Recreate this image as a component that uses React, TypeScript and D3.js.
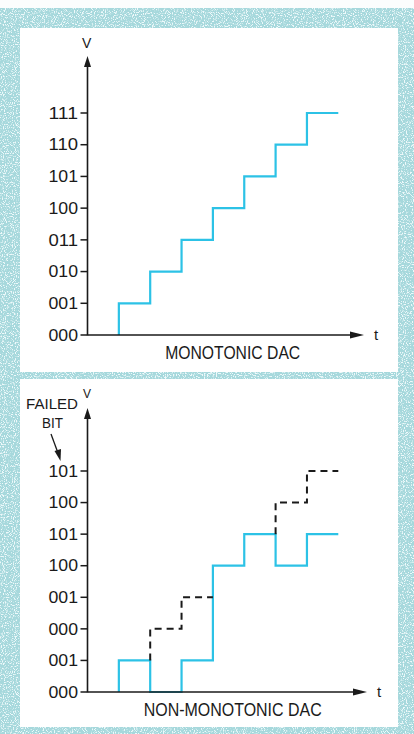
import React from "react";
import * as d3 from "d3";

// Monotonic DAC: step points (time, level)
const monoTimes = [1, 1, 2, 3, 4, 5, 6, 7, 8];
const monoLevels = [0, 1, 2, 3, 4, 5, 6, 7, 7];
const monoTickLabels = ["000", "001", "010", "011", "100", "101", "110", "111"];

// Non-monotonic DAC: actual output (solid) and ideal path (dashed)
const nonTimes = [1, 1, 2, 3, 4, 5, 6, 7, 8];
const nonLevels = [0, 1, 0, 1, 4, 5, 4, 5, 5];
const idealTimesA = [2, 2, 3, 4];
const idealLevelsA = [1, 2, 3, 3];
const idealTimesB = [6, 6, 7, 8];
const idealLevelsB = [5, 6, 7, 7];
const nonTickLabels = ["000", "001", "000", "001", "100", "101", "100", "101"];

const BLUE = "#2cc2e6";
const INK = "#1a1a1a";
const FONT = "'Liberation Sans', Arial, Helvetica, sans-serif";

function zip(t: number[], v: number[]) {
  return t.map((d, i) => [d, v[i]] as [number, number]);
}

function Panel(props: {
  y0: number; y1: number; arrowTop: number;
  labels: string[]; title: string; titleW: number; tEnd: number;
  children: (x: d3.ScaleLinear<number, number>, y: d3.ScaleLinear<number, number>) => React.ReactNode;
}) {
  const { y0, y1, arrowTop, labels, title, titleW, tEnd } = props;
  const x = d3.scaleLinear().domain([0, 8]).range([87.5, 338.3]);
  const y = d3.scaleLinear().domain([0, 7]).range([y0, y1]);
  const ax = x(0);
  return (
    <g>
      {props.children(x, y)}
      {/* y axis */}
      <line x1={ax} x2={ax} y1={y0 + 0.5} y2={arrowTop + 8} stroke={INK} strokeWidth={1.6} />
      <path d={`M${ax},${arrowTop} L${ax - 3.5},${arrowTop + 11} L${ax + 3.5},${arrowTop + 11} Z`} fill={INK} />
      {/* x axis */}
      <line x1={ax} x2={tEnd - 8} y1={y0} y2={y0} stroke={INK} strokeWidth={1.6} />
      <path d={`M${tEnd},${y0} L${tEnd - 14},${y0 - 3.5} L${tEnd - 14},${y0 + 3.5} Z`} fill={INK} />
      {/* ticks */}
      {labels.map((lab, i) => (
        <g key={i}>
          <line x1={ax - 7} x2={ax} y1={y(i)} y2={y(i)} stroke={INK} strokeWidth={1.5} />
          <text x={78} y={y(i) + 5.7} textAnchor="end" fontFamily={FONT} fontSize={16}
            textLength={29.5} lengthAdjust="spacingAndGlyphs" fill={INK}>{lab}</text>
        </g>
      ))}
      <text x={tEnd + 10} y={y0 + 5} fontFamily={FONT} fontSize={15} fill={INK}>t</text>
      <text x={(x(2.4) + x(6.8)) / 2 + 1} y={y0 + 24} textAnchor="middle" fontFamily={FONT} fontSize={17.5}
        textLength={titleW} lengthAdjust="spacingAndGlyphs" fill={INK}>{title}</text>
    </g>
  );
}

export default function App() {
  const mk = (x: any, y: any) =>
    d3.line<[number, number]>().x((d) => x(d[0])).y((d) => y(d[1])).curve(d3.curveStepAfter);

  return (
    <div style={{ position: "fixed", left: 0, top: 0, width: 414, height: 734 }}>
      <svg width={414} height={734} style={{ display: "block" }}>
        <defs>
          <filter id="speckle" x="0" y="0" width="100%" height="100%" filterUnits="userSpaceOnUse">
            <feTurbulence type="fractalNoise" baseFrequency="0.9" numOctaves={2} seed={3} result="n" />
            <feColorMatrix in="n" type="matrix"
              values="0 0 0 0 0.86  0 0 0 0 0.95  0 0 0 0 0.96  6 0 0 0 -3.1" result="c" />
            <feComposite in="c" in2="SourceGraphic" operator="in" />
          </filter>
        </defs>
        <rect x={0} y={0} width={414} height={734} fill="#fbfdfd" />
        <rect x={0} y={8} width={414} height={726} fill="#a6d8dc" />
        <rect x={0} y={8} width={414} height={726} fill="#a6d8dc" filter="url(#speckle)" />
        <rect x={20} y={28} width={378} height={344} fill="#ffffff" />
        <rect x={20} y={379} width={378} height={348} fill="#ffffff" />

        <Panel y0={335} y1={113} arrowTop={56} labels={monoTickLabels}
          title="MONOTONIC DAC" titleW={135} tEnd={364}>
          {(x, y) => (
            <g>
              <path d={mk(x, y)(zip(monoTimes, monoLevels)) || ""} fill="none" stroke={BLUE}
                strokeWidth={2.2} strokeLinejoin="miter" />
              <text x={82} y={48} fontFamily={FONT} fontSize={14} fill={INK}>V</text>
            </g>
          )}
        </Panel>

        <Panel y0={692} y1={471} arrowTop={408} labels={nonTickLabels}
          title="NON-MONOTONIC DAC" titleW={178} tEnd={367}>
          {(x, y) => (
            <g>
              <path d={mk(x, y)(zip(nonTimes, nonLevels)) || ""} fill="none" stroke={BLUE}
                strokeWidth={2.2} />
              <path d={mk(x, y)(zip(idealTimesA, idealLevelsA)) || ""} fill="none" stroke={INK}
                strokeWidth={2} strokeDasharray="7 5" />
              <path d={mk(x, y)(zip(idealTimesB, idealLevelsB)) || ""} fill="none" stroke={INK}
                strokeWidth={2} strokeDasharray="7 5" />
              <text x={83} y={398} fontFamily={FONT} fontSize={12} fill={INK}>V</text>
              <text x={26} y={409} fontFamily={FONT} fontSize={15.5} textLength={52}
                lengthAdjust="spacingAndGlyphs" fill={INK}>FAILED</text>
              <text x={42} y={428} fontFamily={FONT} fontSize={15.5} textLength={21}
                lengthAdjust="spacingAndGlyphs" fill={INK}>BIT</text>
              <line x1={51} y1={434} x2={58} y2={453} stroke={INK} strokeWidth={1.3} />
              <path d="M60.5,461 L54.5,451 L61,449 Z" fill={INK} />
            </g>
          )}
        </Panel>
      </svg>
    </div>
  );
}
